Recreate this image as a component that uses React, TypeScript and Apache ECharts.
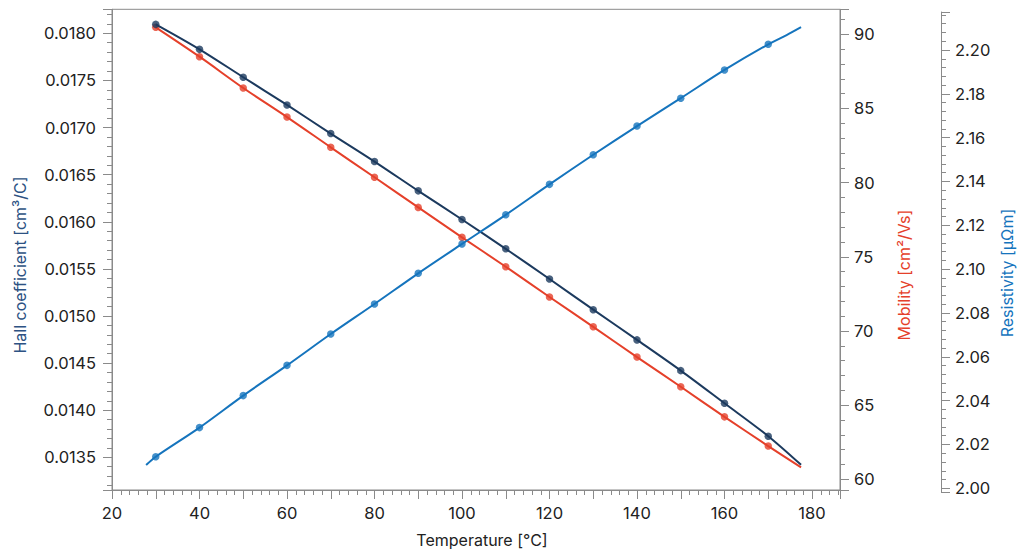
import React, { useEffect, useRef } from "react";
import * as echarts from "echarts";

// ---- data ----
const temperatures = [30, 40, 50, 60, 70, 80, 90, 100, 110, 120, 130, 140, 150, 160, 170];
const hallValues = [0.018095, 0.01783, 0.017534, 0.01724, 0.016936, 0.016639, 0.016328, 0.016024, 0.015713, 0.015392, 0.015067, 0.014746, 0.01442, 0.014073, 0.013724];
const hallFitEnd: [number, number][] = [[177.5, 0.01342]];
const mobilityValues = [90.47, 88.49, 86.38, 84.42, 82.38, 80.36, 78.33, 76.31, 74.33, 72.29, 70.28, 68.24, 66.24, 64.21, 62.24];
const mobilityFitEnd: [number, number][] = [[177.5, 60.8]];
const resistivityValues = [2.0144, 2.0277, 2.0423, 2.0561, 2.0704, 2.0841, 2.0981, 2.1115, 2.1248, 2.1387, 2.1522, 2.1653, 2.178, 2.1909, 2.2026];
const resistivityFitStart: [number, number][] = [[27.8, 2.0106]];
const resistivityFitEnd: [number, number][] = [[174.2, 2.2068], [177.5, 2.2104]];

const xTitle = "Temperature [°C]";
const hallTitle = "Hall coefficient [cm³/C]";
const mobilityTitle = "Mobility [cm²/Vs]";
const resistivityTitle = "Resistivity [µΩm]";

const NAVY = "#1c3a5e";
const RED = "#e5402a";
const BLUE = "#1574bd";
const AXIS = "#8a8a8a";
const TEXT = "#222222";
const FONT = "Inter, 'Noto Sans', sans-serif";
const TICK_FONT = 16.5;

const pairs = (vals: number[]) => temperatures.map((t, i) => [t, vals[i]]);

export default function App() {
  const ref = useRef<HTMLDivElement>(null);
  useEffect(() => {
    document.body.style.margin = "0";
    if (!ref.current) return;
    const chart = echarts.init(ref.current, undefined, { renderer: "svg" });

    const yCommon = (margin: number) => ({
      type: "value",
      splitLine: { show: false },
      axisLine: { show: true, lineStyle: { color: AXIS, width: 1 } },
      axisTick: { show: true, inside: false, length: 9, lineStyle: { color: AXIS } },
      minorTick: { show: true, splitNumber: 5, length: 5, lineStyle: { color: AXIS } },
      axisLabel: {
        color: TEXT,
        fontSize: TICK_FONT,
        fontFamily: FONT,
        margin,
        showMinLabel: false,
        showMaxLabel: false,
      },
    });

    const option: any = {
      animation: false,
      backgroundColor: "#ffffff",
      grid: [
        { left: 112, right: 184, top: 9.3, bottom: 66, show: true, borderColor: AXIS, borderWidth: 1, backgroundColor: "transparent" },
        { left: 112, right: 184, top: 12, bottom: 64 },
      ],
      xAxis: [
        {
          gridIndex: 0,
          type: "value",
          min: 20,
          max: 186.4,
          interval: 10,
          splitLine: { show: false },
          axisLine: { show: true, onZero: false, lineStyle: { color: AXIS } },
          axisTick: { show: true, length: 9, lineStyle: { color: AXIS } },
          minorTick: { show: true, splitNumber: 5, length: 5, lineStyle: { color: AXIS } },
          axisLabel: {
            color: TEXT,
            fontSize: TICK_FONT,
            fontFamily: FONT,
            margin: 14,
            formatter: (v: number) => (Math.abs(v % 20) < 1e-6 ? String(v) : ""),
          },
        },
        { gridIndex: 1, type: "value", min: 20, max: 186.4, show: false },
      ],
      yAxis: [
        {
          ...yCommon(16),
          gridIndex: 0,
          position: "left",
          min: 0.013153,
          max: 0.018255,
          splitNumber: 10,
          minInterval: 0.0005,
          maxInterval: 0.0005,
          axisLabel: { ...yCommon(16).axisLabel, formatter: (v: number) => v.toFixed(4) },
        },
        {
          ...yCommon(14),
          gridIndex: 0,
          position: "right",
          min: 59.279,
          max: 91.685,
          splitNumber: 6,
          minInterval: 5,
          maxInterval: 5,
          axisLabel: { ...yCommon(14).axisLabel, formatter: (v: number) => String(Math.round(v)) },
        },
        {
          ...yCommon(14),
          gridIndex: 1,
          position: "right",
          offset: 101,
          min: 1.99831,
          max: 2.21734,
          splitNumber: 10,
          minInterval: 0.02,
          maxInterval: 0.02,
          axisLabel: { ...yCommon(14).axisLabel, formatter: (v: number) => v.toFixed(2) },
        },
      ],
      series: [
        {
          type: "line",
          xAxisIndex: 0,
          yAxisIndex: 1,
          data: [...pairs(mobilityValues), ...mobilityFitEnd],
          smooth: 0.3,
          showSymbol: false,
          lineStyle: { color: RED, width: 2 },
          z: 2,
        },
        {
          type: "scatter",
          xAxisIndex: 0,
          yAxisIndex: 1,
          data: pairs(mobilityValues),
          symbol: "circle",
          symbolSize: 7.5,
          itemStyle: { color: RED },
          z: 3,
        },
        {
          type: "line",
          xAxisIndex: 0,
          yAxisIndex: 0,
          data: [...pairs(hallValues), ...hallFitEnd],
          smooth: 0.3,
          showSymbol: false,
          lineStyle: { color: NAVY, width: 2 },
          z: 4,
        },
        {
          type: "scatter",
          xAxisIndex: 0,
          yAxisIndex: 0,
          data: pairs(hallValues),
          symbol: "circle",
          symbolSize: 7.5,
          itemStyle: { color: NAVY },
          z: 5,
        },
        {
          type: "line",
          xAxisIndex: 1,
          yAxisIndex: 2,
          data: [...resistivityFitStart, ...pairs(resistivityValues), ...resistivityFitEnd],
          smooth: 0.3,
          showSymbol: false,
          lineStyle: { color: BLUE, width: 2 },
          z: 6,
        },
        {
          type: "scatter",
          xAxisIndex: 1,
          yAxisIndex: 2,
          data: pairs(resistivityValues),
          symbol: "circle",
          symbolSize: 7.5,
          itemStyle: { color: BLUE },
          z: 7,
        },
      ],
      graphic: [
        {
          type: "text",
          x: 482,
          y: 540,
          style: { text: xTitle, fill: TEXT, fontSize: 16, fontFamily: FONT, align: "center", verticalAlign: "middle" },
        },
        {
          type: "text",
          x: 19.5,
          y: 265,
          rotation: Math.PI / 2,
          style: { text: hallTitle, fill: "#2d5283", fontSize: 16, fontFamily: FONT, align: "center", verticalAlign: "middle" },
        },
        {
          type: "text",
          x: 904,
          y: 275,
          rotation: Math.PI / 2,
          style: { text: mobilityTitle, fill: RED, fontSize: 16, fontFamily: FONT, align: "center", verticalAlign: "middle" },
        },
        {
          type: "text",
          x: 1006.5,
          y: 273,
          rotation: Math.PI / 2,
          style: { text: resistivityTitle, fill: BLUE, fontSize: 16, fontFamily: FONT, align: "center", verticalAlign: "middle" },
        },
      ],
    };

    chart.setOption(option);
    return () => chart.dispose();
  }, []);

  return <div ref={ref} style={{ width: 1024, height: 556 }} />;
}
